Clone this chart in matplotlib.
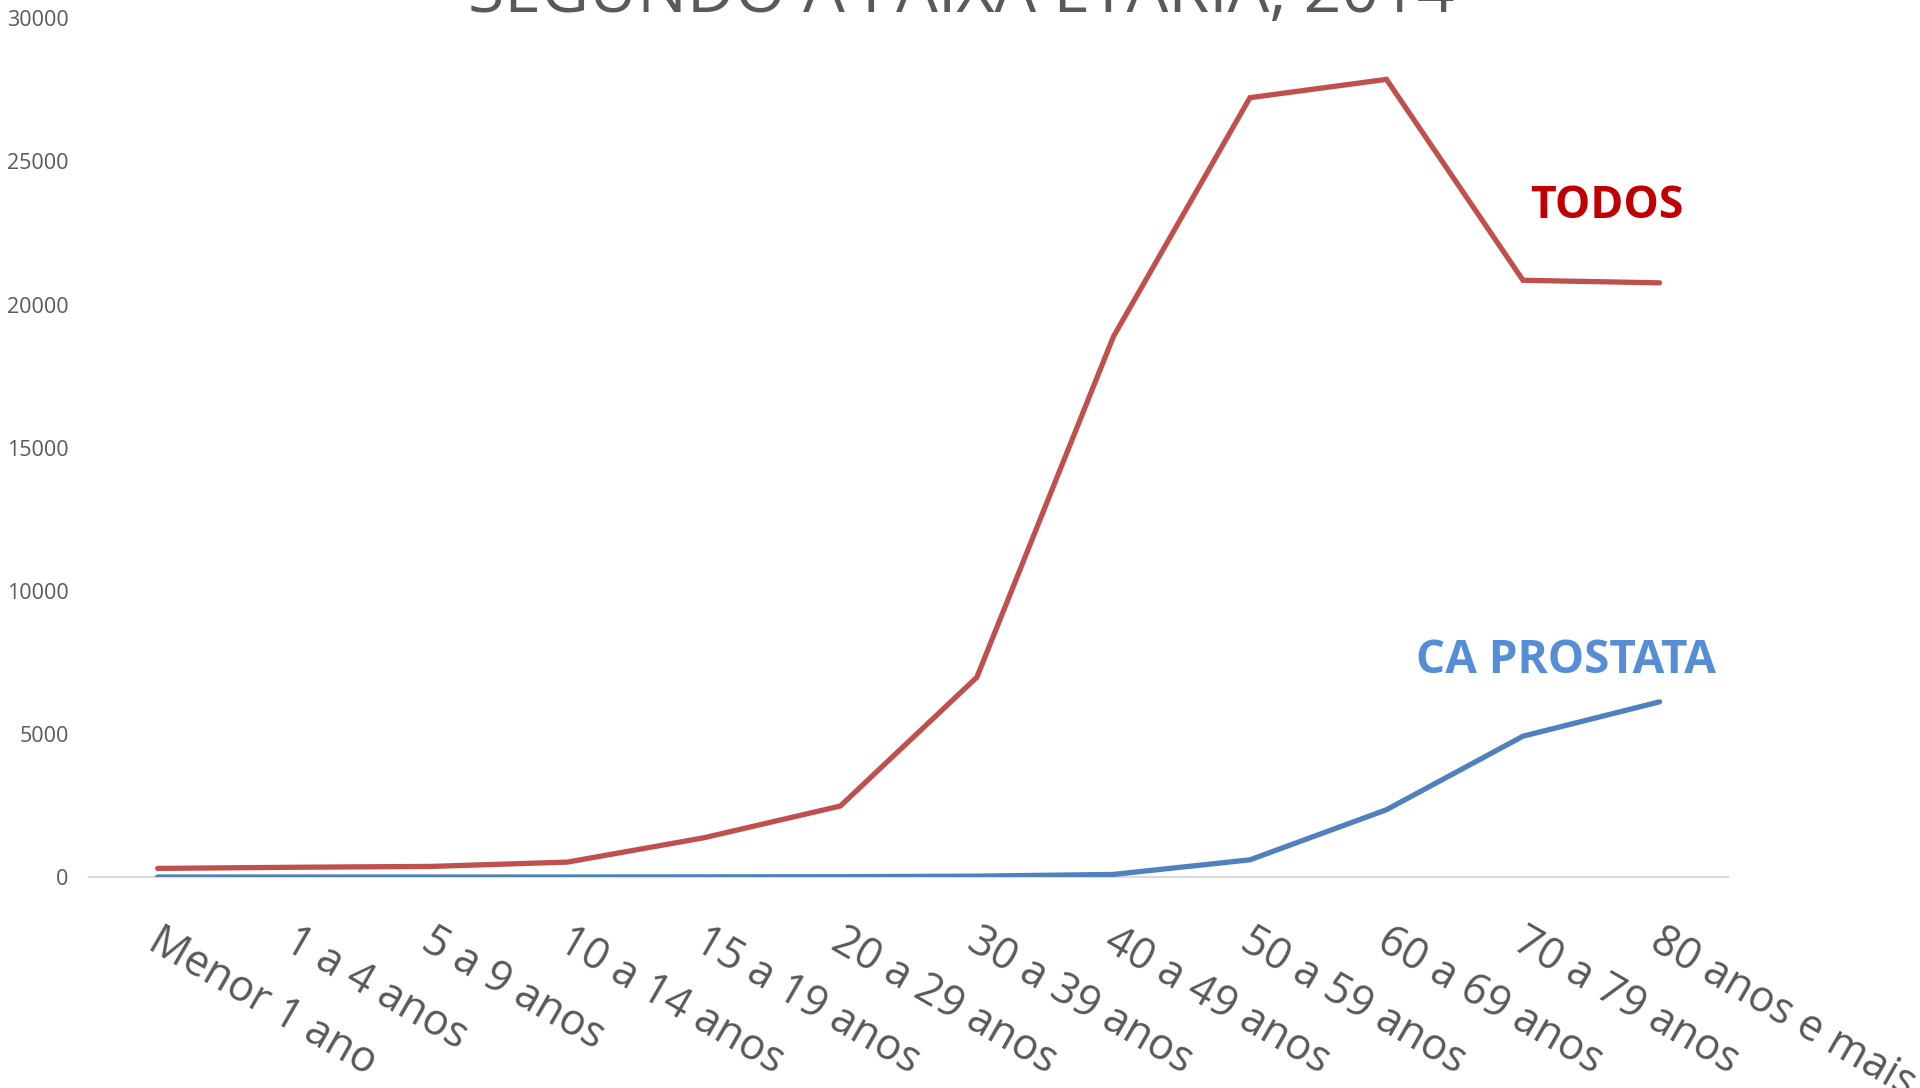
import matplotlib
matplotlib.use("Agg")
import matplotlib.pyplot as plt
import matplotlib.transforms as mtransforms
import numpy as np

categories = ["Menor 1 ano", "1 a 4 anos", "5 a 9 anos", "10 a 14 anos", "15 a 19 anos",
              "20 a 29 anos", "30 a 39 anos", "40 a 49 anos", "50 a 59 anos",
              "60 a 69 anos", "70 a 79 anos", "80 anos e mais"]
todos = [300, 340, 370, 520, 1370, 2480, 6980, 18880, 27230, 27870, 20850, 20760]
ca_prostata = [0, 0, 0, 0, 5, 10, 30, 90, 600, 2350, 4920, 6120]
yticks = [0, 5000, 10000, 15000, 20000, 25000, 30000]
title = "SEGUNDO A FAIXA ETÁRIA, 2014"

W, H = 1920, 1088
fig = plt.figure(figsize=(W / 100, H / 100), dpi=100)
ax = fig.add_axes([89.4 / W, 1 - 877 / H, (1727.8 - 89.4) / W, (877 - 18.4) / H])

x = np.arange(len(categories))
ax.plot(x, todos, color="#C0504D", lw=3.8, solid_capstyle="round", solid_joinstyle="miter", zorder=3)
ax.plot(x, ca_prostata, color="#4F81BD", lw=3.8, solid_capstyle="round", solid_joinstyle="miter", zorder=3)

ax.set_xlim(-0.5, len(categories) - 0.5)
ax.set_ylim(0, 30000)
for s in ["top", "right", "left"]:
    ax.spines[s].set_visible(False)
ax.spines["bottom"].set_color("#D9D9D9")
ax.spines["bottom"].set_linewidth(1.5)
ax.spines["bottom"].set_zorder(1)

ax.set_yticks(yticks)
ax.set_yticklabels([str(v) for v in yticks], fontsize=15.5, color="#595959", family="Open Sans")
ax.tick_params(axis="y", length=0, pad=15)
ax.tick_params(axis="x", length=0, pad=30)
ax.set_xticks(x)
ax.set_xticklabels(categories, rotation=-30, ha="left", va="top", rotation_mode="anchor",
                   fontsize=31, color="#595959", family="Open Sans")
offset = mtransforms.ScaledTranslation(5 / 100, 0, fig.dpi_scale_trans)
for lbl in ax.get_xticklabels():
    lbl.set_transform(lbl.get_transform() + offset)

ax.text(10.615, 23445, "TODOS", color="#C00000", fontsize=32, fontweight="bold",
        family="Open Sans", ha="center", va="center")
ax.text(10.315, 7582, "CA PROSTATA", color="#558ED5", fontsize=33, fontweight="bold",
        family="Open Sans", ha="center", va="center")

fig.text(961 / W, 1 - 12 / H, title, fontsize=47.5, color="#595959", family="Open Sans",
         ha="center", va="baseline")

fig.savefig("out.png", dpi=100)
